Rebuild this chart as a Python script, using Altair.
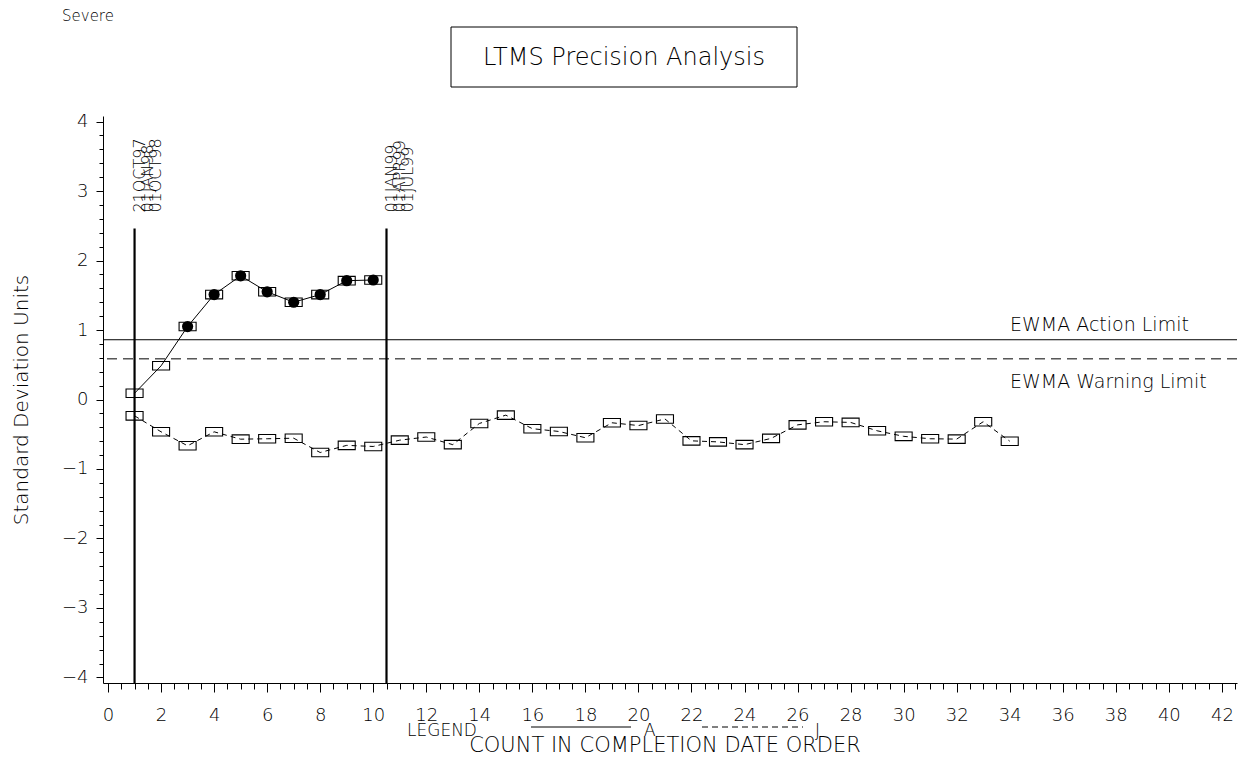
import altair as alt
import pandas as pd

# ---------------- data ----------------
count_a = [1, 2, 3, 4, 5, 6, 7, 8, 9, 10]
ewma_a = [0.09, 0.485, 1.05, 1.51, 1.78, 1.55, 1.40, 1.51, 1.71, 1.72]
filled_a = [False, False, True, True, True, True, True, True, True, True]

count_j = list(range(1, 35))
ewma_j = [-0.235, -0.465, -0.666, -0.465, -0.571, -0.565, -0.557, -0.763, -0.66, -0.676,
          -0.585, -0.54, -0.65, -0.345, -0.225, -0.42, -0.46, -0.55, -0.335, -0.375,
          -0.28, -0.595, -0.61, -0.65, -0.56, -0.365, -0.32, -0.33, -0.45, -0.53,
          -0.565, -0.57, -0.32, -0.60]

limit_names = ["EWMA Action Limit", "EWMA Warning Limit"]
limit_values = [0.86, 0.585]

event_counts = [1, 10.5]
event_top = [2.46, 2.46]
event_label_y = 2.69
event_dates = [["21OCT97", "01JAN98", "01OCT98"],
               ["01JAN99", "01APR99", "01JUL99"]]

x_tick_values = [i / 2 for i in range(0, 86)]
y_tick_values = [round(-4 + 0.2 * i, 1) for i in range(41)]

title_text = "LTMS Precision Analysis"
corner_text = "Severe"
x_title = "COUNT IN COMPLETION DATE ORDER"
y_title = "Standard Deviation Units"
legend_word = "LEGEND"
series_names = ["A", "J"]

# ---------------- layout ----------------
W, H = 1134, 567
FONT = "DejaVu Sans"
FW = 200
X_DOMAIN = [-0.19, 42.57]
Y_DOMAIN = [-4.08, 4.08]

df_a = pd.DataFrame({"count": count_a, "ewma": ewma_a, "filled": filled_a})
df_j = pd.DataFrame({"count": count_j, "ewma": ewma_j})
df_lim = pd.DataFrame({"name": limit_names, "value": limit_values})
df_evt = pd.DataFrame({"count": event_counts, "top": event_top})
rows = []
for c, dates in zip(event_counts, event_dates):
    for k, d in enumerate(dates):
        rows.append({"count": c, "y": event_label_y, "label": d, "k": k})
df_evt_lab = pd.DataFrame(rows)

xaxis = alt.Axis(
    values=x_tick_values,
    labelExpr="datum.value % 2 === 0 ? datum.label : ''",
    format=".0f",
    tickSize={"condition": {"test": "datum.value % 2 === 0", "value": 9}, "value": 6},
    labelPadding=14,
    labelFontSize=18,
    labelFlush=False,
    labelOverlap=False,
    grid=False,
    title=None,
)
yaxis = alt.Axis(
    values=y_tick_values,
    labelExpr="abs(datum.value - round(datum.value)) < 0.001 ? datum.label : ''",
    format=".0f",
    tickSize={"condition": {"test": "abs(datum.value - round(datum.value)) < 0.001", "value": 7},
              "value": 4},
    labelPadding=8,
    labelFontSize=18,
    labelFlush=False,
    labelOverlap=False,
    grid=False,
    title=y_title,
    titleFontSize=20,
    titlePadding=30,
)
xscale = alt.Scale(domain=X_DOMAIN, nice=False, zero=False)
yscale = alt.Scale(domain=Y_DOMAIN, nice=False, zero=False)


def X(field):
    return alt.X(f"{field}:Q", scale=xscale, axis=xaxis)


def Y(field):
    return alt.Y(f"{field}:Q", scale=yscale, axis=yaxis)


def txt(**kw):
    base = dict(font=FONT, fontWeight=FW, color="black")
    base.update(kw)
    return base


box_shape = "M-1,-0.5L1,-0.5L1,0.5L-1,0.5Z"

# limits
action_rule = alt.Chart(df_lim).transform_filter(
    alt.datum.name == limit_names[0]).mark_rule(color="black", strokeWidth=1).encode(y=Y("value"))
warning_rule = alt.Chart(df_lim).transform_filter(
    alt.datum.name == limit_names[1]).mark_rule(color="black", strokeWidth=1,
                                                strokeDash=[10, 6]).encode(y=Y("value"))
action_lab = alt.Chart(df_lim).transform_filter(
    alt.datum.name == limit_names[0]).mark_text(
    **txt(fontSize=19, align="left", baseline="middle", dy=-15)
).encode(y=Y("value"), x=alt.value(907), text="name:N")
warning_lab = alt.Chart(df_lim).transform_filter(
    alt.datum.name == limit_names[1]).mark_text(
    **txt(fontSize=19, align="left", baseline="middle", dy=23)
).encode(y=Y("value"), x=alt.value(907), text="name:N")

# event lines and labels
evt_rule = alt.Chart(df_evt).mark_rule(color="black", strokeWidth=2.2).encode(
    x=X("count"), y=Y("top"), y2=alt.value(H))
evt_layers = []
for k in range(3):
    evt_layers.append(
        alt.Chart(df_evt_lab).transform_filter(alt.datum.k == k).mark_text(
            **txt(fontSize=16, angle=270, align="left", baseline="top", dy=-3 + 8 * k)
        ).encode(x=X("count"), y=Y("y"), text="label:N")
    )

# series A
a_line = alt.Chart(df_a).mark_line(color="black", strokeWidth=1).encode(x=X("count"), y=Y("ewma"))
a_box = alt.Chart(df_a).mark_point(shape=box_shape, size=290, filled=False, color="black",
                                   strokeWidth=1.1, opacity=1).encode(x=X("count"), y=Y("ewma"))
a_dot = alt.Chart(df_a).transform_filter(alt.datum.filled).mark_circle(
    size=125, color="black", opacity=1).encode(x=X("count"), y=Y("ewma"))

# series J
j_line = alt.Chart(df_j).mark_line(color="black", strokeWidth=1, strokeDash=[5, 4]).encode(
    x=X("count"), y=Y("ewma"))
j_box = alt.Chart(df_j).mark_point(shape=box_shape, size=290, filled=False, color="black",
                                   strokeWidth=1.1, opacity=1).encode(x=X("count"), y=Y("ewma"))

# annotations (positions in pixels of the plot area)
title_box = alt.Chart(pd.DataFrame({"t": [title_text]})).mark_rect(
    fill="white", stroke="black", strokeWidth=1).encode(
    x=alt.value(348), x2=alt.value(694), y=alt.value(-89), y2=alt.value(-29))
title_lab = alt.Chart(pd.DataFrame({"t": [title_text]})).mark_text(
    **txt(fontSize=24, align="center", baseline="middle")).encode(
    x=alt.value(521), y=alt.value(-58), text="t:N")
corner_lab = alt.Chart(pd.DataFrame({"t": [corner_text]})).mark_text(
    **txt(fontSize=15, align="left", baseline="middle")).encode(
    x=alt.value(-41), y=alt.value(-100), text="t:N")
top_cut = alt.Chart(pd.DataFrame({"t": [x_title]})).mark_text(
    **txt(fontSize=20, align="center", baseline="alphabetic")).encode(
    x=alt.value(562), y=alt.value(-111), text="t:N")
bottom_title = alt.Chart(pd.DataFrame({"t": [x_title]})).mark_text(
    **txt(fontSize=21, align="center", baseline="alphabetic")).encode(
    x=alt.value(562), y=alt.value(636), text="t:N")
legend_lab = alt.Chart(pd.DataFrame({"t": [legend_word]})).mark_text(
    **txt(fontSize=17, align="left", baseline="alphabetic")).encode(
    x=alt.value(304), y=alt.value(620), text="t:N")
leg_a_line = alt.Chart(pd.DataFrame({"t": [series_names[0]]})).mark_rule(
    color="black", strokeWidth=1).encode(x=alt.value(428), x2=alt.value(528), y=alt.value(611))
leg_a_lab = alt.Chart(pd.DataFrame({"t": [series_names[0]]})).mark_text(
    **txt(fontSize=17, align="left", baseline="alphabetic")).encode(
    x=alt.value(541), y=alt.value(620), text="t:N")
leg_j_line = alt.Chart(pd.DataFrame({"t": [series_names[1]]})).mark_rule(
    color="black", strokeWidth=1, strokeDash=[6, 4]).encode(
    x=alt.value(599), x2=alt.value(700), y=alt.value(611))
leg_j_lab = alt.Chart(pd.DataFrame({"t": [series_names[1]]})).mark_text(
    **txt(fontSize=17, align="left", baseline="alphabetic")).encode(
    x=alt.value(712), y=alt.value(620), text="t:N")

chart = alt.layer(
    action_rule, warning_rule, action_lab, warning_lab,
    evt_rule, *evt_layers,
    j_line, j_box, a_line, a_box, a_dot,
    title_box, title_lab, corner_lab, top_cut,
    bottom_title, legend_lab, leg_a_line, leg_a_lab, leg_j_line, leg_j_lab,
).properties(
    width=W, height=H,
    autosize=alt.AutoSizeParams(type="none"),
    padding={"left": 95, "top": 108, "right": 12, "bottom": 70},
    background="white",
).configure_view(stroke=None).configure_axis(
    domainColor="black", tickColor="black", labelColor="black", titleColor="black",
    labelFont=FONT, titleFont=FONT, labelFontWeight=FW, titleFontWeight=FW,
    domainWidth=1, tickWidth=1,
)

chart.save("out.html", embed_options={"renderer": "svg", "actions": False})
